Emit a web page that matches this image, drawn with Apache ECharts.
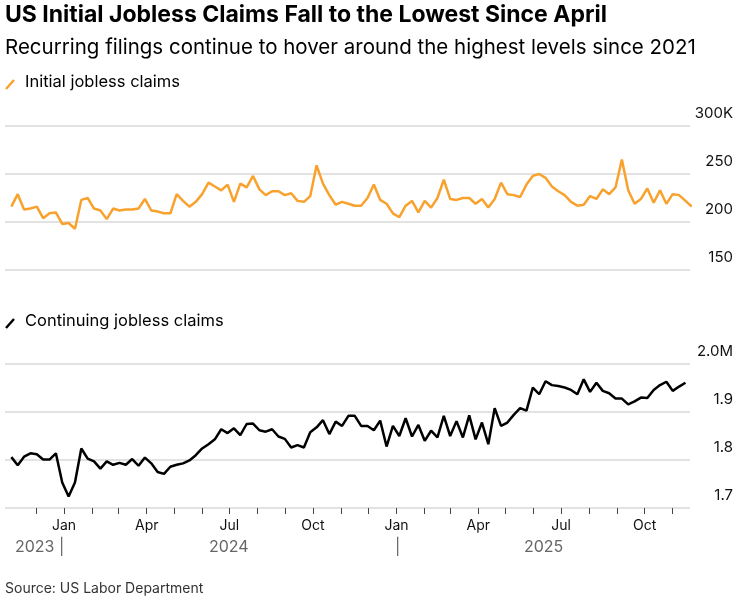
<!DOCTYPE html>
<html><head><meta charset="utf-8">
<script src="https://cdn.jsdelivr.net/npm/echarts@6/dist/echarts.min.js"></script>
<style>html,body{margin:0;padding:0;background:#fff}#c{width:751px;height:603px}</style>
</head><body><div id="c"></div>
<script>
const startDate = '2023-11-04';
const initialClaims = [216,229,213,214,216,204,209,210,198,199,193,223,225,214,212,203,214,212,213,213,214,224,212,211,209,209,229,222,216,221,229,241,237,233,239,221,240,236,248,234,228,232,232,228,230,222,221,227,259,240,228,218,221,219,217,217,225,239,223,
219,209,205,217,222,210,222,215,225,244,224,223,225,225,219,224,215,224,241,229,228,226,239,248,250,246,237,232,228,221,217,218,227,224,234,229,236,265,233,219,224,235,220,233,219,229,228,222,216];
const continuingClaims = [1806,1789,1807,1814,1812,1801,1801,1814,1753,1724,1753,1824,1803,1797,1782,1797,1790,1794,1790,1802,1788,1805,1793,1775,1771,1786,1790,1793,1799,1810,1824,1833,1843,1864,1856,1866,1852,1875,1876,1862,1859,1864,1849,1844,1826,1831,1826,1858,1868,1883,1854,1880,1871,1892,1892,1871,1871,1862,1882,
1828,1871,1850,1887,1849,1873,1840,1861,1847,1892,1850,1881,1847,1893,1843,1878,1833,1908,1871,1878,1894,1908,1903,1951,1937,1964,1956,1954,1951,1946,1937,1968,1942,1961,1944,1939,1928,1928,1916,1922,1930,1929,1946,1956,1963,1944,1953,1961];
const initialTicks = [150,200,250,300];
const continuingTicks = [1700,1800,1900,2000];
const monthNames = ['Jan','Feb','Mar','Apr','May','Jun','Jul','Aug','Sep','Oct','Nov','Dec'];

const DAY = 86400000, base = Date.UTC(2024,0,1);
const s0 = (Date.parse(startDate) - base) / DAY;
const xOf = i => s0 + 7*i;
const iniData = initialClaims.map((v,i)=>[xOf(i), v]);
const conData = continuingClaims.map((v,i)=>[xOf(i), v]);
const months = [], labelMonths = [], monthMap = {};
for (let y=2023; y<=2025; y++) for (let m=0; m<12; m++) {
  const d = (Date.UTC(y,m,1)-base)/DAY;
  if (d < -60 || d > 685) continue;
  months.push(d); monthMap[d] = monthNames[m];
  if (m%3===0) labelMonths.push(d);
}
const xmin=-65, xmax=689;
const font = 'Inter, "Noto Sans", sans-serif';
const yLabel = (fmt) => ({show:true, inside:false, align:'right', margin:43, verticalAlign:'bottom', padding:[0,0,5,0], color:'#111', fontSize:15, fontFamily:font, formatter:fmt});
const chart = echarts.init(document.getElementById('c'));
chart.setOption({
  animation:false,
  grid:[{left:5,right:61,top:126,height:144},{left:5,right:61,top:364,height:144}],
  xAxis:[
    {gridIndex:0,type:'value',min:xmin,max:xmax,show:false},
    {gridIndex:1,type:'value',min:xmin,max:xmax,
     axisLine:{show:false},splitLine:{show:false},
     axisTick:{show:true,customValues:months,length:6,lineStyle:{color:'#444',width:1}},
     axisLabel:{customValues:labelMonths,formatter:v=>monthMap[Math.round(v)]||'',color:'#111',fontSize:14,fontFamily:font,margin:11}}
  ],
  yAxis:[
    {gridIndex:0,type:'value',position:'right',min:150,max:300,interval:50,
     axisLine:{show:false},axisTick:{show:false},splitLine:{lineStyle:{color:'#d9d9d9',width:1.5}},
     axisLabel:yLabel(v=>v===300?'300K':String(v))},
    {gridIndex:1,type:'value',position:'right',min:1700,max:2000,interval:100,
     axisLine:{show:false},axisTick:{show:false},splitLine:{lineStyle:{color:'#d9d9d9',width:1.5}},
     axisLabel:yLabel(v=>v===2000?'2.0M':(v/1000).toFixed(1))}
  ],
  series:[
    {type:'line',xAxisIndex:0,yAxisIndex:0,data:iniData,symbol:'none',lineStyle:{color:'#f9a12d',width:2.5}},
    {type:'line',xAxisIndex:1,yAxisIndex:1,data:conData,symbol:'none',lineStyle:{color:'#000',width:2.5}}
  ],
  graphic:[
    {type:'text',left:5,top:4,style:{text:'US Initial Jobless Claims Fall to the Lowest Since April',font:'bold 23px '+font,fill:'#000'}},
    {type:'text',left:5,top:37,style:{text:'Recurring filings continue to hover around the highest levels since 2021',font:'20.5px '+font,fill:'#000'}},
    {type:'line',shape:{x1:6,y1:89,x2:14,y2:80},style:{stroke:'#f9a12d',lineWidth:2.5}},
    {type:'text',left:25,top:74,style:{text:'Initial jobless claims',font:'16.5px '+font,fill:'#000'}},
    {type:'line',shape:{x1:6,y1:328,x2:14,y2:319},style:{stroke:'#000',lineWidth:2.5}},
    {type:'text',left:25,top:313,style:{text:'Continuing jobless claims',font:'16.5px '+font,fill:'#000'}},
    {type:'text',left:15,top:539,style:{text:'2023 |',font:'16px '+font,fill:'#666'}},
    {type:'text',left:209,top:539,style:{text:'2024',font:'16px '+font,fill:'#666'}},
    {type:'text',left:395,top:539,style:{text:'|',font:'16px '+font,fill:'#666'}},
    {type:'text',left:524,top:539,style:{text:'2025',font:'16px '+font,fill:'#666'}},
    {type:'text',left:5,top:582,style:{text:'Source: US Labor Department',font:'14px '+font,fill:'#333'}}
  ]
});
</script></body></html>
